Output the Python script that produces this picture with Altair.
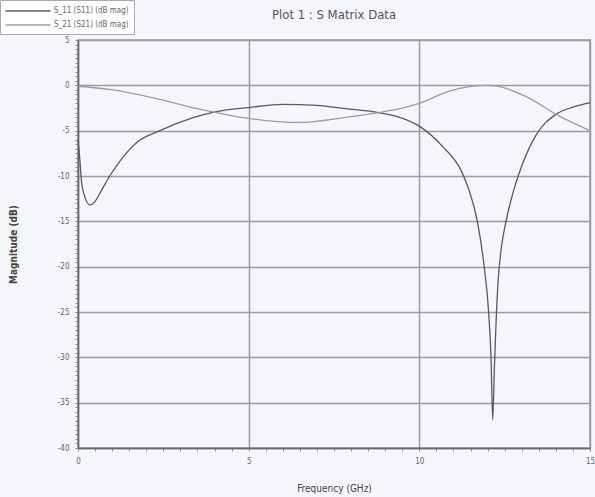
import altair as alt
import pandas as pd
import numpy as np

# S11 (darker curve)
s11_freq = [0.0, 0.05, 0.1, 0.2, 0.35, 0.5, 0.7, 0.93, 1.3, 1.72, 2.4, 3.35, 4.05, 5.0, 6.0,
            7.0, 7.9, 8.8, 9.4, 10.0, 10.67, 11.25, 11.45, 11.7, 11.9, 12.03, 12.1, 12.15,
            12.2, 12.26, 12.3, 12.4, 12.54, 12.77, 13.0, 13.4, 14.0, 14.5, 15.0]
s11_db = [-6.0, -8.0, -10.5, -12.3, -13.2, -12.8, -11.5, -10.0, -8.0, -6.3, -5.0, -3.6, -2.9,
          -2.45, -2.1, -2.2, -2.6, -3.0, -3.5, -4.5, -6.7, -9.6, -11.5, -15.0, -20.0, -25.0,
          -30.0, -36.9, -31.0, -25.0, -22.0, -18.0, -15.0, -11.5, -8.9, -5.6, -3.2, -2.4, -1.9]

# S21 (lighter curve)
s21_freq = [0.0, 0.93, 2.4, 3.35, 4.05, 5.0, 6.45, 7.9, 8.8, 9.4, 10.0, 10.9, 12.05, 13.1, 14.1, 15.0]
s21_db = [-0.1, -0.45, -1.55, -2.45, -3.0, -3.65, -4.1, -3.5, -3.0, -2.6, -2.0, -0.6, 0.0, -1.2, -3.4, -5.0]

series_names = ["S_11 (S11) (dB mag)", "S_21 (S21) (dB mag)"]
series_colors = ["#5a5a5a", "#9c9c9c"]

x_major = [0, 5, 10, 15]
y_major = [5, 0, -5, -10, -15, -20, -25, -30, -35, -40]
x_ticks = [float(v) for v in np.arange(0, 15.01, 0.5)]
y_ticks = [float(v) for v in np.arange(-40, 5.01, 0.5)]

df = pd.concat([
    pd.DataFrame({"freq": s11_freq, "db": s11_db, "series": series_names[0], "ord": range(len(s11_freq))}),
    pd.DataFrame({"freq": s21_freq, "db": s21_db, "series": series_names[1], "ord": range(len(s21_freq))}),
])

FONT = "DejaVu Sans Condensed"
LABEL_EXPR = "datum.value % 5 === 0 ? '' + datum.value : ''"

x_axis = alt.Axis(
    values=x_ticks,
    labelExpr=LABEL_EXPR,
    title="Frequency (GHz)",
    titleFont=FONT, titleFontSize=10, titleFontWeight="normal", titleColor="#444",
    titlePadding=18,
    labelFont=FONT, labelFontSize=8, labelColor="#666", labelPadding=6,
    grid=True,
    gridColor="#9a9a9a", gridWidth=1.5,
    gridOpacity={"condition": {"test": "datum.value % 5 === 0", "value": 1}, "value": 0},
    tickColor="#888", tickSize=3,
    domainColor="#666", domainWidth=1.5,
    labelFlush=False,
)
y_axis = alt.Axis(
    values=y_ticks,
    labelExpr=LABEL_EXPR,
    title="Magnitude (dB)",
    titleFont=FONT, titleFontSize=10, titleFontWeight="bold", titleColor="#444",
    titlePadding=39,
    labelFont=FONT, labelFontSize=8, labelColor="#666", labelPadding=6,
    grid=True,
    gridColor="#9a9a9a", gridWidth=1.5,
    gridOpacity={"condition": {"test": "datum.value % 5 === 0", "value": 1}, "value": 0},
    tickColor="#888", tickSize=3,
    domainColor="#666", domainWidth=1.5,
    labelFlush=False,
)

chart = alt.Chart(df).mark_line(interpolate="monotone", strokeWidth=1.3).encode(
    x=alt.X("freq:Q", scale=alt.Scale(domain=[0, 15], nice=False), axis=x_axis),
    y=alt.Y("db:Q", scale=alt.Scale(domain=[-40, 5], nice=False), axis=y_axis),
    color=alt.Color("series:N",
                    scale=alt.Scale(domain=series_names, range=series_colors),
                    legend=alt.Legend(
                        title=None, orient="none", legendX=-78, legendY=-40,
                        symbolType="M-4.5,0H4.5", symbolSize=100, symbolStrokeWidth=1.3,
                        symbolOffset=17, labelOffset=20,
                        labelFont=FONT, labelFontSize=8, labelColor="#666",
                        fillColor="#ffffff", strokeColor="#aaaaaa", padding=5,
                        rowPadding=4,
                    )),
    order="ord:Q",
).properties(
    width=512, height=408,
    title=alt.TitleParams("Plot 1 : S Matrix Data", font=FONT, fontSize=13,
                          fontWeight="normal", color="#555", offset=0, dy=22),
    autosize=alt.AutoSizeParams(type="none"),
    padding={"left": 78, "top": 40, "right": 5, "bottom": 49},
    background="#f4f6fb",
).configure_view(
    stroke="#9a9a9a", strokeWidth=1.5, fill="#f4f6fb",
)

chart.save("out.html", embed_options={"renderer": "svg", "actions": False})
